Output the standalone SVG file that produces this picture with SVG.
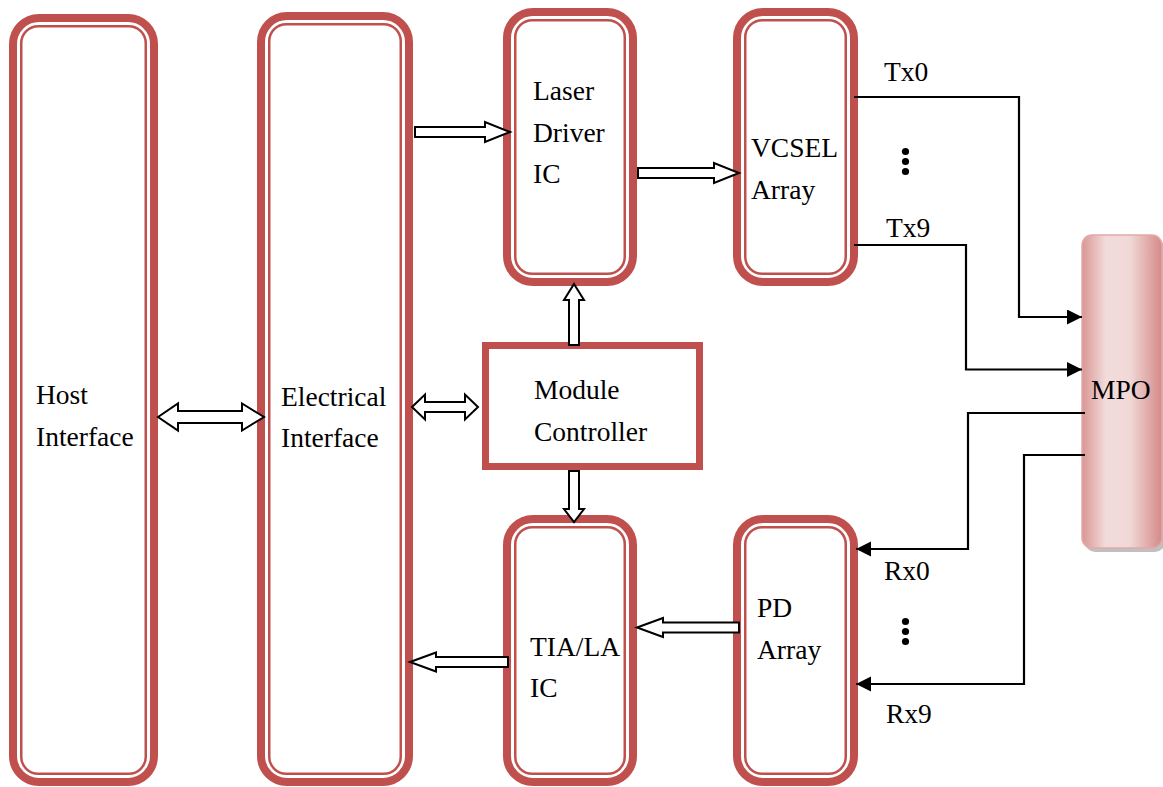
<svg xmlns="http://www.w3.org/2000/svg" width="1163" height="787" viewBox="0 0 1163 787">
<style>
.outer{fill:#fff;stroke:#C0504D;stroke-width:8}
.inner{fill:none;stroke:#C0504D;stroke-width:2.5}
.t{font-family:"Liberation Serif","Times New Roman",serif;font-size:27.5px;fill:#000}
.blk{fill:#fff;stroke:#000;stroke-width:2;stroke-linejoin:miter}
.ln{fill:none;stroke:#000;stroke-width:2.2}
</style>
<defs>
<marker id="ah" markerUnits="userSpaceOnUse" markerWidth="16" markerHeight="16" refX="15" refY="7.5" orient="auto">
<path d="M0,0 L15,7.5 L0,15 Z" fill="#000"/>
</marker>
<linearGradient id="mpoG" x1="0" y1="0" x2="1" y2="0">
<stop offset="0" stop-color="#D99694"/>
<stop offset="0.3" stop-color="#F2DCDB"/>
<stop offset="0.6" stop-color="#F0D8D7"/>
<stop offset="1" stop-color="#D48A89"/>
</linearGradient>
</defs>
<rect width="1163" height="787" fill="#fff"/>

<g id="host">
<rect class="outer" x="13" y="18" width="141" height="764" rx="26"/>
<rect class="inner" x="21.25" y="26.25" width="124.5" height="747.5" rx="17"/>
<text class="t" x="36" y="404">Host</text>
<text class="t" x="36" y="446">Interface</text>
</g>

<g id="electrical">
<rect class="outer" x="261" y="16" width="148" height="766" rx="26"/>
<rect class="inner" x="269.25" y="24.25" width="131.5" height="749.5" rx="17"/>
<text class="t" x="281" y="406">Electrical</text>
<text class="t" x="281" y="447">Interface</text>
</g>

<g id="laserdriver">
<rect class="outer" x="507" y="12" width="126" height="270" rx="26"/>
<rect class="inner" x="515.25" y="20.25" width="109.5" height="253.5" rx="17"/>
<text class="t" x="533" y="100">Laser</text>
<text class="t" x="533" y="142">Driver</text>
<text class="t" x="533" y="183">IC</text>
</g>

<g id="vcsel">
<rect class="outer" x="737" y="12" width="117" height="270" rx="26"/>
<rect class="inner" x="745.25" y="20.25" width="100.5" height="253.5" rx="17"/>
<text class="t" x="751" y="157">VCSEL</text>
<text class="t" x="751" y="199">Array</text>
</g>

<g id="tia">
<rect class="outer" x="507" y="519" width="126" height="263" rx="26"/>
<rect class="inner" x="515.25" y="527.25" width="109.5" height="246.5" rx="17"/>
<text class="t" x="530" y="656">TIA/LA</text>
<text class="t" x="530" y="697">IC</text>
</g>

<g id="pd">
<rect class="outer" x="737" y="519" width="117" height="263" rx="26"/>
<rect class="inner" x="745.25" y="527.25" width="100.5" height="246.5" rx="17"/>
<text class="t" x="757" y="617">PD</text>
<text class="t" x="757" y="659">Array</text>
</g>

<g id="controller">
<rect x="485.5" y="345.5" width="214" height="121" fill="#fff" stroke="#C0504D" stroke-width="7"/>
<text class="t" x="534" y="399">Module</text>
<text class="t" x="534" y="441">Controller</text>
</g>

<g id="mpo">
<rect x="1085" y="239" width="80" height="313" rx="10" fill="#8c8c8c" opacity="0.55"/>
<rect x="1082" y="235" width="80" height="313" rx="10" fill="url(#mpoG)" stroke="#E2A9A8" stroke-width="1.5"/>
<text class="t" x="1091" y="399">MPO</text>
</g>

<g id="connectors">
<path class="blk" d="M158,417 L178,403.5 V411 H242 V403.5 L264,417 L242,430.5 V423 H178 V430.5 Z"/>
<path class="blk" d="M412,407 L425,394.5 V402 H465 V394.5 L478,407 L465,419.5 V412 H425 V419.5 Z"/>
<path class="blk" d="M415,127 H485 V122 L510,132 L485,142 V137 H415 Z"/>
<path class="blk" d="M638,168 H714 V163 L739,173 L714,183 V178 H638 Z"/>
<path class="blk" d="M574,284 L584,300 H579 V345 H569 V300 H564 Z"/>
<path class="blk" d="M569,471 H579 V509 H584 L574,522 L564,509 H569 Z"/>
<path class="blk" d="M637,627.5 L663,618 V622.5 H739 V632.5 H663 V637 Z"/>
<path class="blk" d="M410,662 L436,652.5 V657 H508 V667 H436 V671.5 Z"/>

<path class="ln" d="M854,97 H1019 V317 H1082" marker-end="url(#ah)"/>
<path class="ln" d="M854,245 H966 V369.5 H1082" marker-end="url(#ah)"/>
<path class="ln" d="M1085,413 H968 V549 H856" marker-end="url(#ah)"/>
<path class="ln" d="M1085,455 H1024 V684 H856" marker-end="url(#ah)"/>

<text class="t" x="884" y="81">Tx0</text>
<text class="t" x="886" y="237">Tx9</text>
<text class="t" x="884" y="580">Rx0</text>
<text class="t" x="886" y="723">Rx9</text>

<circle cx="905.5" cy="151.5" r="3.6" fill="#000"/>
<circle cx="905.5" cy="161.5" r="3.6" fill="#000"/>
<circle cx="905.5" cy="171.5" r="3.6" fill="#000"/>
<circle cx="905.5" cy="621.5" r="3.6" fill="#000"/>
<circle cx="905.5" cy="631.5" r="3.6" fill="#000"/>
<circle cx="905.5" cy="641.5" r="3.6" fill="#000"/>
</g>
</svg>
